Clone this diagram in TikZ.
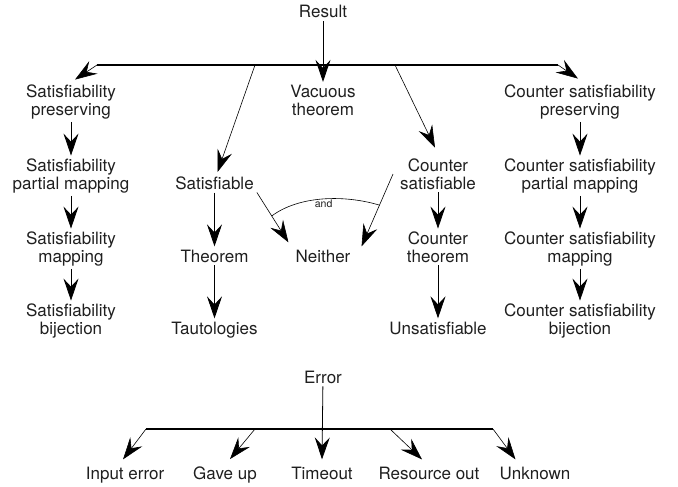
\documentclass[tikz,border=0pt]{standalone}
\usepackage{fontspec}
\setmainfont{TeX Gyre Heros}
\usetikzlibrary{arrows.meta}
\begin{document}
\begin{tikzpicture}[x=1pt,y=-1pt,
  lbl/.style={font=\fontsize{17}{17.5}\selectfont, align=center, inner sep=3pt, anchor=base, text=black!88},
  arr/.style={-{Stealth[length=22pt,width=15pt,inset=8pt]}, line width=0.8pt},
  thin arr/.style={-{Stealth[length=22pt,width=15pt,inset=8pt]}, line width=0.6pt},
  bar/.style={line width=1.3pt},
  small/.style={font=\fontsize{10.5}{12}\selectfont, inner sep=1pt, text=black!88}]
\useasboundingbox (0,0) rectangle (678,487);

% nodes
\node[lbl] (res) at (323,18) {Result};
\node[lbl] (vac) at (323,115) {Vacuous\\theorem};
\node[lbl] (sp)  at (71,115) {Satisfiability\\preserving};
\node[lbl] (spm) at (71,189) {Satisfiability\\partial mapping};
\node[lbl] (sm)  at (71,262) {Satisfiability\\mapping};
\node[lbl] (sb)  at (71,334) {Satisfiability\\bijection};
\node[lbl] (sat) at (214.5,189) {Satisfiable};
\node[lbl] (thm) at (214.5,262) {Theorem};
\node[lbl] (tau) at (214.5,334) {Tautologies};
\node[lbl] (nei) at (323,262) {Neither};
\node[lbl] (cs)  at (438,189) {Counter\\satisfiable};
\node[lbl] (ct)  at (438,262) {Counter\\theorem};
\node[lbl] (uns) at (438,334) {Unsatisfiable};
\node[lbl] (csp)  at (580,115) {Counter satisfiability\\preserving};
\node[lbl] (cspm) at (580,189) {Counter satisfiability\\partial mapping};
\node[lbl] (csm)  at (580,262) {Counter satisfiability\\mapping};
\node[lbl] (csb)  at (580,334) {Counter satisfiability\\bijection};

\node[lbl] (err) at (323,383) {Error};
\node[lbl] (ie) at (125,479) {Input error};
\node[lbl] (gu) at (225,479) {Gave up};
\node[lbl] (to) at (322,479) {Timeout};
\node[lbl] (ro) at (429,479) {Resource out};
\node[lbl] (un) at (535,479) {Unknown};

% top bar
\coordinate (t1) at (97,65);
\coordinate (t2) at (255,65);
\coordinate (t4) at (395,65);
\coordinate (t5) at (558,65);
\draw[bar] (t1) -- (t5);
\draw[arr] (res) -- (vac);
\draw[thin arr] (t1) -- ([xshift=4pt,yshift=2pt]sp.north);
\draw[thin arr] (t2) -- ([xshift=3pt,yshift=1pt]sat.north);
\draw[thin arr] (t4) -- ([xshift=-3pt,yshift=8pt]cs.north);
\draw[thin arr] (t5) -- ([xshift=-2pt,yshift=3pt]csp.north);

% columns
\draw[arr] (sp) -- (spm);
\draw[arr] (spm) -- (sm);
\draw[arr] (sm) -- (sb);
\draw[arr] (sat) -- (thm);
\draw[arr] (thm) -- (tau);
\draw[arr] (cs) -- (ct);
\draw[arr] (ct) -- (uns);
\draw[arr] (csp) -- (cspm);
\draw[arr] (cspm) -- (csm);
\draw[arr] (csm) -- (csb);

% neither
\draw[thin arr] (sat.south east) -- coordinate[pos=0.47] (a1) ([xshift=-4pt,yshift=4pt]nei.north west);
\draw[thin arr] ([xshift=-4pt]cs.west) -- coordinate[pos=0.43] (a2) ([xshift=8pt]nei.north east);
\draw[line width=0.6pt] (a1) .. controls (300,195) and (346,195) .. node[pos=0.5, below, small] (andl) {and} (a2);

% error
\coordinate (b1) at (146,429);
\coordinate (b2) at (255,429);
\coordinate (b4) at (390,429);
\coordinate (b5) at (493,429);
\draw[bar] (b1) -- (b5);
\draw[arr] (err) -- ([yshift=4pt]to.north);
\draw[thin arr] (b1) -- ([xshift=-2pt,yshift=4pt]ie.north);
\draw[thin arr] (b2) -- ([xshift=5pt,yshift=4pt]gu.north);
\draw[thin arr] (b4) -- ([xshift=-7pt,yshift=4pt]ro.north);
\draw[thin arr] (b5) -- ([xshift=19pt,yshift=4pt]un.north west);
\end{tikzpicture}
\end{document}
